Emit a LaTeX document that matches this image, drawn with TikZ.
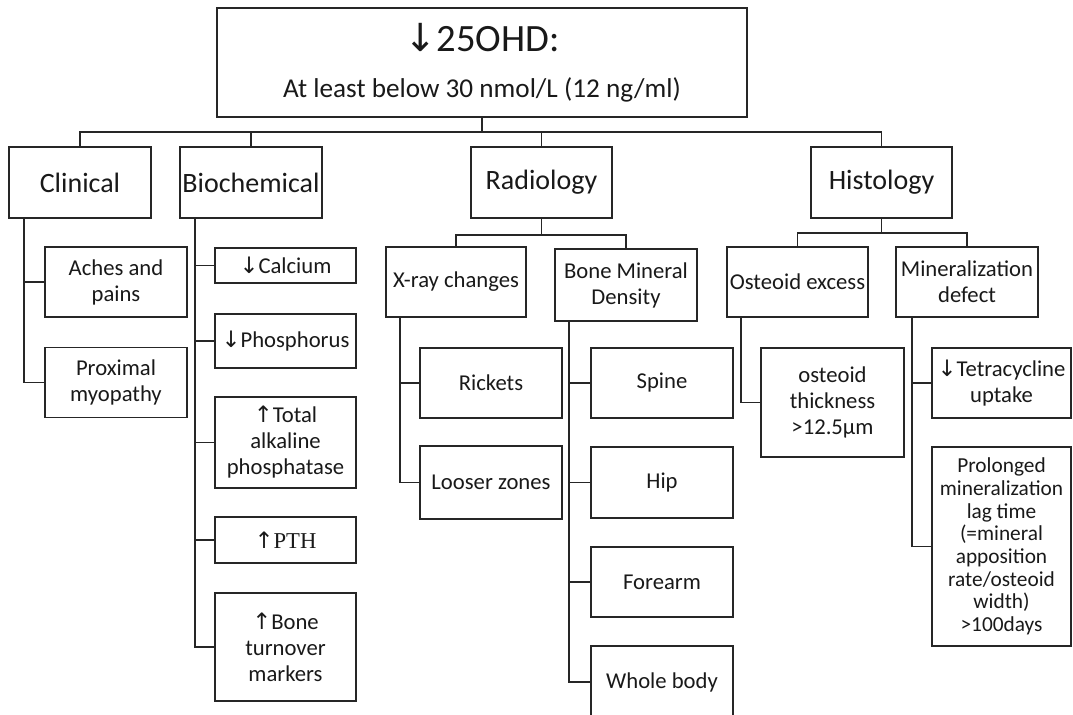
\documentclass[tikz,border=0pt]{standalone}
\usepackage{fontspec}
\setmainfont{Carlito}
\newfontfamily\arrfont{DejaVu Sans}
\newfontfamily\pthfont{Liberation Serif}
\newcommand{\arrdown}{{\arrfont ↓}}
\newcommand{\arrup}{{\arrfont ↑}}
\tikzset{
	box/.style={draw=black!85, line width=1.2pt, align=center, inner sep=1pt, text=black!90},
	sz/.style 2 args={minimum width=#1*0.75pt, minimum height=#2*0.75pt},
	head/.style={box, sz={142}{71}, font=\fontsize{21}{24}\selectfont},
	leaf/.style={box, font=\fontsize{17}{19.5}\selectfont},
	link/.style={draw=black!85, line width=1.2pt}
}

\begin{document}
\begin{tikzpicture}[x=0.75pt, y=-0.75pt]
	\useasboundingbox (0,0) rectangle (1073,714);

	% --- Top ---
	\node[box, sz={530}{109}, font=\fontsize{20.4}{34.5}\selectfont] (top) at (482,62.5)
		{{\fontsize{29}{34.5}\selectfont\arrdown25OHD:}\\At least below 30 nmol/L (12 ng/ml)};

	% --- Level 1 ---
	\node[head] (clin) at (80,182.5) {Clinical};
	\node[head] (bio) at (251,182.5) {Biochemical};
	\node[head, sz={141}{71}] (rad) at (541.5,182.5) {Radiology};
	\node[head, sz={141}{71}] (hist) at (881.5,182.5) {Histology};

	% --- Clinical ---
	\node[leaf, sz={142}{70}] (aches) at (116,282) {Aches and\\pains};
	\node[leaf, sz={142}{70}] (prox) at (116,382.5) {Proximal\\myopathy};

	% --- Biochemical ---
	\node[leaf, sz={141}{35}] (calc) at (285.5,265.5) {\arrdown Calcium};
	\node[leaf, sz={141}{54}] (phos) at (285.5,341) {\arrdown Phosphorus};
	\node[leaf, sz={141}{91}] (alp) at (285.5,442.5) {\arrup Total\\alkaline\\phosphatase};
	\node[leaf, sz={141}{46}] (pth) at (285.5,540) {\arrup{\pthfont PTH}};
	\node[leaf, sz={141}{108}] (turn) at (285.5,647) {\arrup Bone\\turnover\\markers};

	% --- Radiology ---
	\node[leaf, sz={140}{70}] (xray) at (456,282) {X-ray changes};
	\node[leaf, sz={142}{72}] (bmd) at (626,285) {Bone Mineral\\Density};
	\node[leaf, sz={142}{70}] (rick) at (491,383) {Rickets};
	\node[leaf, sz={142}{73}] (loos) at (491,482.5) {Looser zones};
	\node[leaf, sz={142}{70}] (spine) at (662,383) {Spine};
	\node[leaf, sz={142}{71}] (hip) at (662,482.5) {Hip};
	\node[leaf, sz={142}{70}] (fore) at (662,582) {Forearm};
	\node[leaf, sz={142}{72}] (whole) at (662,682) {Whole body};

	% --- Histology ---
	\node[leaf, sz={141}{70}] (oste) at (797.5,282) {Osteoid excess};
	\node[leaf, sz={142}{70}] (mind) at (967,282) {Mineralization\\defect};
	\node[leaf, sz={143}{109}] (thick) at (832.5,402.5) {osteoid\\thickness\\>12.5µm};
	\node[leaf, sz={139}{70}] (tetra) at (1001.5,383) {\arrdown Tetracycline\\uptake};
	\node[leaf, sz={139}{199}, font=\fontsize{16}{17}\selectfont] (prol) at (1001.5,546.5)
		{Prolonged\\mineralization\\lag time\\(=mineral\\apposition\\rate/osteoid\\width)\\>100days};

	% --- Connectors ---
	\coordinate (bus) at (482,132);
	\draw[link] (top.south) -- (bus);
	\draw[link] (clin.north) |- (bus);
	\draw[link] (hist.north) |- (bus);
	\foreach \n in {bio,rad} \draw[link] (\n.north) -- (\n.north |- bus);

	\coordinate (radbus) at (541.5,235);
	\draw[link] (rad.south) -- (radbus);
	\foreach \n in {xray,bmd} \draw[link] (\n.north) |- (radbus);

	\coordinate (histbus) at (881.5,233);
	\draw[link] (hist.south) -- (histbus);
	\foreach \n in {oste,mind} \draw[link] (\n.north) |- (histbus);

	% trunks
	\coordinate (clintrunk) at (24,218);
	\coordinate (biotrunk) at (195,218);
	\coordinate (xraytrunk) at (400,317);
	\coordinate (bmdtrunk) at (569,321);
	\coordinate (ostetrunk) at (741,317);
	\coordinate (mindtrunk) at (912,317);
	\foreach \n in {aches,prox} \draw[link] (clintrunk) |- (\n.west);
	\foreach \n in {calc,phos,alp,pth,turn} \draw[link] (biotrunk) |- (\n.west);
	\foreach \n in {rick,loos} \draw[link] (xraytrunk) |- (\n.west);
	\foreach \n in {spine,hip,fore,whole} \draw[link] (bmdtrunk) |- (\n.west);
	\draw[link] (ostetrunk) |- (thick.west);
	\foreach \n in {tetra,prol} \draw[link] (mindtrunk) |- (\n.west);
\end{tikzpicture}
\end{document}
